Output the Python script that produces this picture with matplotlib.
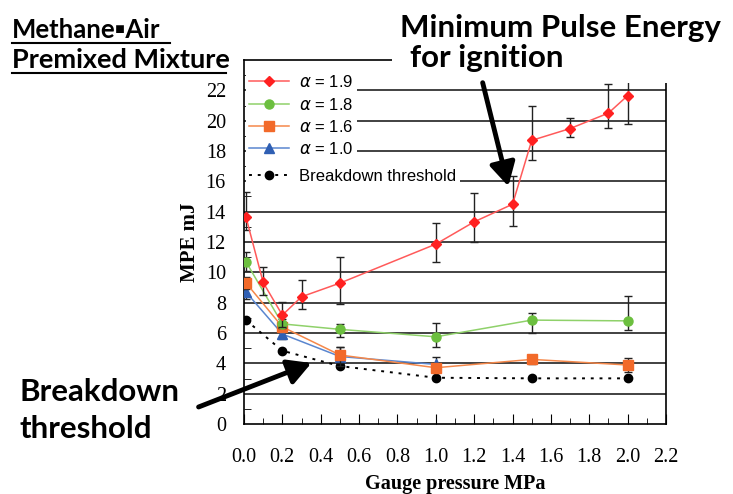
import numpy as np
import matplotlib
matplotlib.use("Agg")
from matplotlib import pyplot as plt
from matplotlib.lines import Line2D
from matplotlib.patches import Rectangle, FancyArrowPatch

# MPE vs gauge pressure, methane/air premixed mixture
x_19 = [0.01, 0.1, 0.2, 0.3, 0.5, 1.0, 1.2, 1.4, 1.5, 1.7, 1.9, 2.0]
y_19 = [13.66, 9.33, 7.18, 8.39, 9.29, 11.86, 13.33, 14.49, 18.7, 19.48, 20.5, 21.65]
lo_19 = [0.86, 0.83, 0.8, 0.83, 1.41, 1.16, 1.33, 1.43, 1.3, 0.58, 1.0, 1.9]
hi_19 = [1.64, 1.03, 0.88, 1.1, 1.73, 1.36, 1.91, 1.85, 2.3, 0.72, 1.9, 1.9]

x_18 = [0.01, 0.2, 0.5, 1.0, 1.5, 2.0]
y_18 = [10.7, 6.6, 6.24, 5.75, 6.85, 6.8]
lo_18 = [0.6, 0.3, 0.5, 0.66, 0.85, 0.6]
hi_18 = [0.65, 0.3, 0.35, 0.92, 0.45, 1.63]

x_16 = [0.01, 0.2, 0.5, 1.0, 1.5, 2.0]
y_16 = [9.31, 6.4, 4.55, 3.71, 4.26, 3.89]
err_16 = [0.4, 0.3, 0.5, 0.3, 0.3, 0.45]

x_10 = [0.01, 0.2, 0.5, 1.0]
y_10 = [8.7, 5.93, 4.45, 3.93]
err_10 = [0.45, 0.3, 0.65, 0.5]

x_bd = [0.01, 0.2, 0.5, 1.0, 1.5, 2.0]
y_bd = [6.85, 4.83, 3.82, 3.05, 3.01, 3.01]

W, H = 733, 494
fig = plt.figure(figsize=(W / 100, H / 100), dpi=100)
ax = fig.add_axes([244 / W, 1 - 424 / H, (666 - 244) / W, (424 - 60) / H])

serif = "Liberation Serif"
sans = ["Lato", "DejaVu Sans"]

for y in range(2, 23, 2):
    ax.axhline(y, color="#333333", lw=1.3, zorder=1)

ebkw = dict(ecolor="#222222", elinewidth=1.0, capsize=3, capthick=1.0)

bd = ax.plot(x_bd, y_bd, color="black", ls=(0, (1.5, 3)), lw=1.4, marker="o",
             ms=6, zorder=3)[0]
e10 = ax.errorbar(x_10, y_10, yerr=err_10, color="#5a86cf", lw=1.1,
                  marker="^", ms=7, mfc="#2f5fb3", mec="#2f5fb3", zorder=4,
                  **ebkw)
e16 = ax.errorbar(x_16, y_16, yerr=err_16, color="#f5884a", lw=1.1,
                  marker="s", ms=6.5, mfc="#f26a2a", mec="#f26a2a", zorder=5,
                  **ebkw)
e18 = ax.errorbar(x_18, y_18, yerr=[lo_18, hi_18], color="#8fd16a", lw=1.1,
                  marker="o", ms=6.5, mfc="#6cbf3f", mec="#6cbf3f", zorder=6,
                  **ebkw)
e19 = ax.errorbar(x_19, y_19, yerr=[lo_19, hi_19], color="#ff5a5a", lw=1.1,
                  marker="D", ms=5.5, mfc="#ff2020", mec="#ff2020", zorder=7,
                  **ebkw)

ax.set_xlim(0, 2.2)
ax.set_ylim(0, 24)
ax.set_xticks(np.arange(0, 2.21, 0.2))
ax.set_xticks(np.arange(0.1, 2.2, 0.2), minor=True)
ax.set_xticklabels([f"{v:.1f}" for v in np.arange(0, 2.21, 0.2)])
ax.set_yticks(range(0, 23, 2))
ax.set_yticks(range(1, 24, 2), minor=True)
ax.tick_params(which="both", direction="in", colors="black")
ax.tick_params(axis="x", which="major", length=7, pad=17, labelsize=14.5)
ax.tick_params(axis="x", which="minor", length=4)
ax.tick_params(axis="y", which="major", length=0, pad=13, labelsize=14.5)
ax.tick_params(axis="y", which="minor", length=5)
for lab in ax.get_xticklabels() + ax.get_yticklabels():
    lab.set_fontfamily(serif)
for s in ax.spines.values():
    s.set_linewidth(1.2)
    s.set_color("black")

ax.set_xlabel("Gauge pressure MPa", family=serif, weight="bold", fontsize=14.5,
              labelpad=5)
ax.set_ylabel("MPE mJ", family=serif, weight="bold", fontsize=15, labelpad=4)

# legend: four mixture ratios (data lines only, no error bars), then breakdown
legkw = dict(loc="upper left", frameon=True, fancybox=False, edgecolor="none",
             facecolor="white", framealpha=1,
             prop={"family": "Liberation Sans", "size": 12},
             handlelength=2.4, handletextpad=0.6, borderpad=0.2,
             borderaxespad=0)
leg1 = ax.legend([e19[0], e18[0], e16[0], e10[0]],
                 [r"$\alpha$ = 1.9", r"$\alpha$ = 1.8", r"$\alpha$ = 1.6",
                  r"$\alpha$ = 1.0"],
                 bbox_to_anchor=(0.005, 0.97), labelspacing=0.38, **legkw)
leg1.set_zorder(20)
ax.add_artist(leg1)
leg2 = ax.legend([bd], ["Breakdown threshold"], bbox_to_anchor=(0.005, 0.71),
                 **legkw)
leg2.set_zorder(20)

# white text box over the top-right corner of the plot
fig.patches.append(Rectangle((392 / W, 1 - 83 / H), 1, 1,
                             transform=fig.transFigure, facecolor="white",
                             edgecolor="none", zorder=30))

fkw = dict(family=sans, weight="bold", color="black", zorder=40)
fig.text(12 / W, 1 - 38 / H, "Methane\u25aaAir", fontsize=18.5, **fkw)
fig.text(12 / W, 1 - 68 / H, "Premixed Mixture", fontsize=19.5, **fkw)
for y0, x1 in [(43, 170), (73, 226)]:
    fig.add_artist(Line2D([12 / W, x1 / W], [1 - y0 / H, 1 - y0 / H],
                          transform=fig.transFigure, color="black", lw=1.5,
                          zorder=40))

fig.text(400 / W, 1 - 37 / H, "Minimum Pulse Energy", fontsize=22.5, **fkw)
fig.text(410 / W, 1 - 67 / H, "for ignition", fontsize=22.5, **fkw)
fig.text(20 / W, 1 - 401 / H, "Breakdown", fontsize=22.5, **fkw)
fig.text(20 / W, 1 - 438 / H, "threshold", fontsize=22.5, **fkw)

akw = dict(arrowstyle="-|>,head_length=1.0,head_width=0.55", lw=3.5,
           color="black", mutation_scale=14)
fig.add_artist(FancyArrowPatch((482 / W, 1 - 80 / H), (509 / W, 1 - 189 / H),
                               transform=fig.transFigure, zorder=45, **akw))
fig.add_artist(FancyArrowPatch((196 / W, 1 - 408 / H), (314 / W, 1 - 362 / H),
                               transform=fig.transFigure, zorder=45, **akw))

fig.savefig("out.png", dpi=100)
